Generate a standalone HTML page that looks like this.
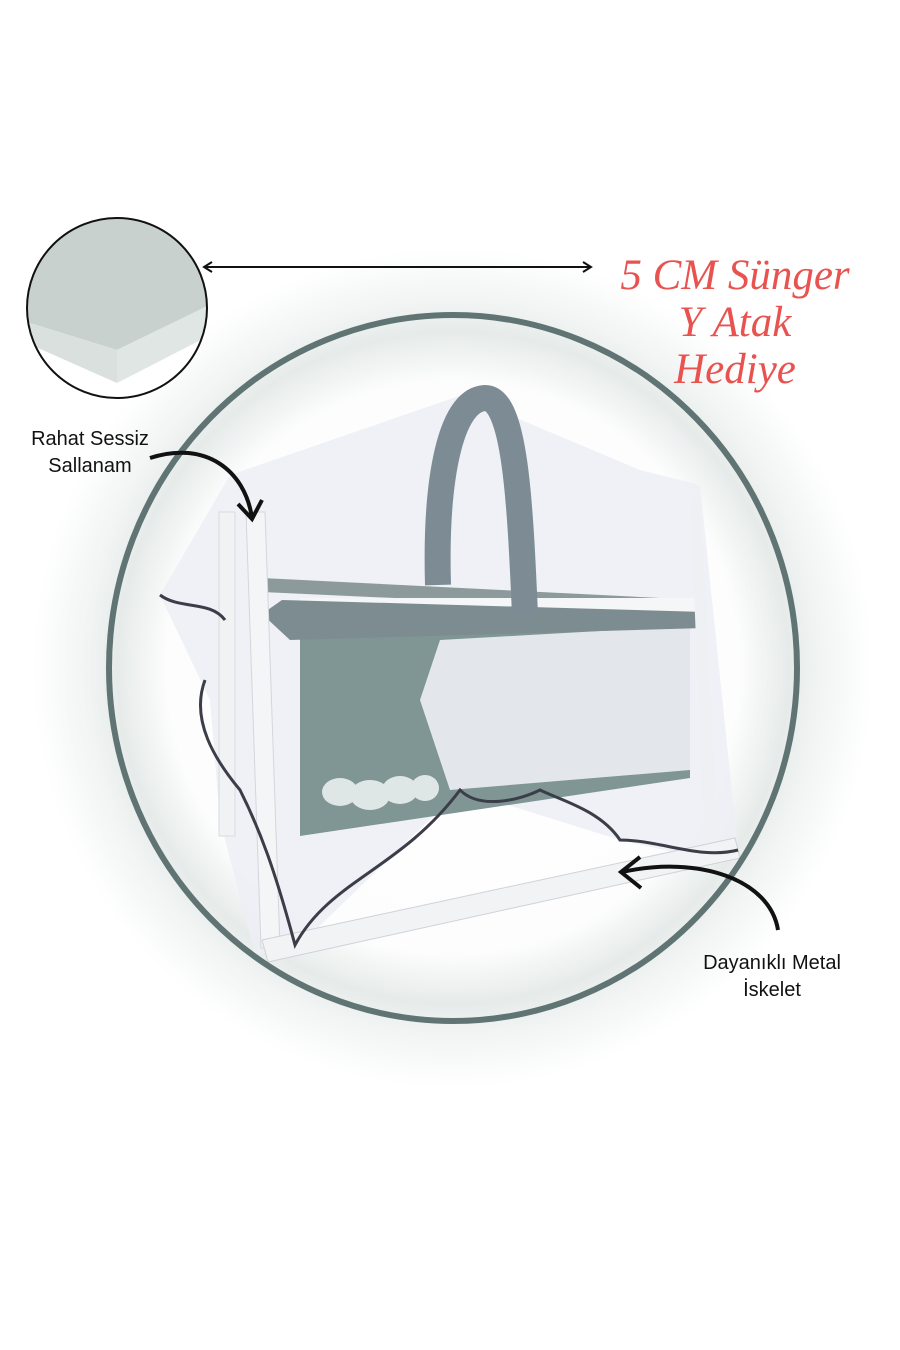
<!DOCTYPE html>
<html><head><meta charset="utf-8"><style>
html,body{margin:0;padding:0;background:#fff;}
body{width:900px;height:1350px;position:relative;overflow:hidden;font-family:"Liberation Sans",sans-serif;}
.lbl{position:absolute;font-size:20px;color:#111;text-align:center;line-height:27px;}
.red{position:absolute;color:#e8534f;font-family:"Liberation Serif",serif;font-style:italic;font-size:43px;line-height:46px;text-align:center;}
</style></head><body>
<svg width="900" height="1350" style="position:absolute;left:0;top:0">
<defs>
<radialGradient id="g" cx="453" cy="668" r="420" gradientUnits="userSpaceOnUse">
<stop offset="0" stop-color="#fff"/><stop offset="0.68" stop-color="#fdfdfd"/><stop offset="0.8" stop-color="#e6ebea"/><stop offset="0.88" stop-color="#f2f5f4"/><stop offset="1" stop-color="#fff"/>
</radialGradient>
<clipPath id="sc"><circle cx="117" cy="308" r="90"/></clipPath>
</defs>
<rect x="0" y="220" width="900" height="900" fill="url(#g)"/>
<!-- net -->
<polygon points="160,595 230,475 462,395 640,470 700,485 738,850 700,858 620,840 460,790 300,945 255,955 220,820 210,700" fill="#eceef4" opacity="0.85"/>
<!-- back rail -->
<polygon points="262,578 700,600 700,612 262,592" fill="#8c9a9c"/>
<rect x="300" y="598" width="400" height="30" fill="#f5f6f8"/>
<!-- front panel -->
<polygon points="300,638 690,625 690,778 300,836" fill="#7f9694"/>
<polygon points="440,640 690,626 690,770 450,790 420,700" fill="#eef0f5" opacity="0.9"/>
<!-- top rail -->
<polygon points="262,614 282,600 705,612 705,628 290,640" fill="#7d8c90"/>
<!-- arch -->
<path d="M438,585 C435,480 450,400 485,398 C515,398 520,500 525,615" fill="none" stroke="#7d8c94" stroke-width="26"/>
<!-- clouds -->
<g fill="#dfe6e6"><ellipse cx="340" cy="792" rx="18" ry="14"/><ellipse cx="370" cy="795" rx="20" ry="15"/><ellipse cx="400" cy="790" rx="18" ry="14"/><ellipse cx="425" cy="788" rx="14" ry="13"/></g>
<!-- posts -->
<polygon points="219,512 235,512 235,836 219,836" fill="#f1f2f4" stroke="#d8dbe0"/>
<polygon points="246,512 265,512 280,948 261,948" fill="#f4f5f7" stroke="#d3d6dc"/>
<polygon points="690,500 700,500 718,848 705,848" fill="#eef0f3"/>
<!-- bottom bar -->
<polygon points="262,940 735,838 740,858 268,962" fill="#f2f3f5" stroke="#cfd2d8"/>
<!-- net hem -->
<path d="M160,595 C180,610 210,600 225,620 M205,680 C190,720 215,760 240,790 C260,830 275,870 295,945 C330,880 400,870 460,790 C480,810 520,800 540,790 C560,800 600,810 620,840 C660,840 700,860 738,850" fill="none" stroke="#3b3d48" stroke-width="3"/>
<!-- big circle -->
<ellipse cx="453" cy="668" rx="344" ry="353" fill="none" stroke="#5f7473" stroke-width="6"/>
<!-- small circle -->
<g clip-path="url(#sc)">
<rect x="20" y="210" width="200" height="200" fill="#fff"/>
<polygon points="20,210 220,210 220,300 117,350 20,320" fill="#c9d1cf"/>
<polygon points="20,320 117,350 117,383 20,340" fill="#d9e0de"/>
<polygon points="117,350 220,300 220,330 117,383" fill="#dfe6e4"/>
</g>
<circle cx="117" cy="308" r="90" fill="none" stroke="#111" stroke-width="2"/>
<!-- double arrow -->
<line x1="205" y1="267" x2="590" y2="267" stroke="#111" stroke-width="2"/>
<path d="M212,262 L204,267 L212,272 M583,262 L591,267 L583,272" fill="none" stroke="#111" stroke-width="2"/>
<!-- left curved arrow -->
<path d="M150,458 C205,440 245,470 252,518" fill="none" stroke="#111" stroke-width="4"/>
<path d="M238,504 L252,519 L262,500" fill="none" stroke="#111" stroke-width="4"/>
<!-- right curved arrow -->
<path d="M778,930 C770,880 700,855 622,872" fill="none" stroke="#111" stroke-width="4"/>
<path d="M640,857 L621,872 L641,888" fill="none" stroke="#111" stroke-width="4"/>
</svg>
<div class="lbl" style="left:10px;top:426px;width:160px;">Rahat Sessiz<br>Sallanam</div>
<div class="lbl" style="left:677px;top:950px;width:190px;">Dayanıklı Metal<br>İskelet</div>
<div class="red" style="left:595px;top:253px;width:280px;">5 CM Sünger</div>
<div class="red" style="left:600px;top:300px;width:270px;">Y Atak</div>
<div class="red" style="left:600px;top:347px;width:270px;">Hediye</div>
</body></html>
